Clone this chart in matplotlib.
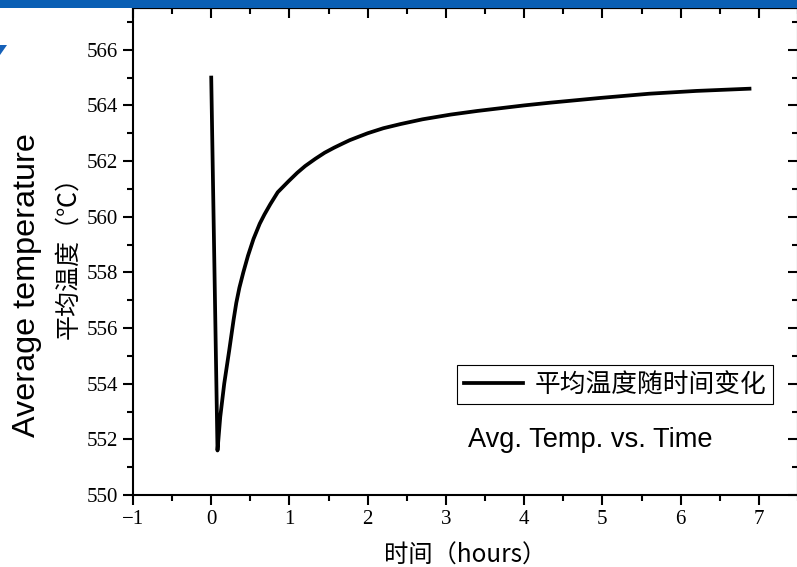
import matplotlib
matplotlib.use('Agg')
from matplotlib import pyplot as plt
from matplotlib.patches import Rectangle, Polygon
from matplotlib.ticker import MultipleLocator

# Data
hours = [0, 0.08, 0.115, 0.166, 0.23, 0.286, 0.32, 0.36, 0.41, 0.47, 0.54, 0.62, 0.68,
         0.755, 0.85, 0.99, 1.1, 1.2, 1.33, 1.45, 1.57, 1.68, 1.77, 1.88, 2.0, 2.2,
         2.42, 2.7, 3.06, 3.4, 3.7, 4.0, 4.34, 4.98, 5.6, 6.2, 6.88]
avg_temp = [565.0, 551.6, 552.8, 554.0, 555.2, 556.3, 556.9, 557.45, 558.0, 558.6, 559.2,
            559.75, 560.08, 560.45, 560.88, 561.28, 561.58, 561.82, 562.08, 562.3, 562.48,
            562.63, 562.75, 562.87, 563.0, 563.18, 563.33, 563.5, 563.67, 563.8, 563.9,
            564.0, 564.1, 564.27, 564.42, 564.52, 564.6]
legend_label = '平均温度随时间变化'

plt.rcParams['font.family'] = ['Liberation Serif', 'Noto Sans CJK SC', 'DejaVu Sans']
cjk = ['Noto Sans CJK SC', 'DejaVu Sans']

fig = plt.figure(figsize=(7.97, 5.67), dpi=100)
ax = fig.add_axes([133 / 797, 72 / 567, 665 / 797, 487 / 567])

ax.plot(hours, avg_temp, color='black', linewidth=2.7, label=legend_label,
        solid_joinstyle='round')

ax.set_xlim(-1, 7.5)
ax.set_ylim(550, 567.5)
ax.xaxis.set_major_locator(MultipleLocator(1))
ax.xaxis.set_minor_locator(MultipleLocator(0.5))
ax.yaxis.set_major_locator(MultipleLocator(2))
ax.yaxis.set_minor_locator(MultipleLocator(1))

ax.tick_params(which='both', direction='out', width=1.5, labelsize=15)
ax.tick_params(which='major', length=7)
ax.tick_params(which='minor', length=4)
for side in ax.spines.values():
    side.set_linewidth(1.5)

# inward ticks on top and right, like the original
ax2 = ax.secondary_xaxis('top')
ax2.xaxis.set_major_locator(MultipleLocator(1))
ax2.xaxis.set_minor_locator(MultipleLocator(0.5))
ax2.tick_params(which='both', direction='in', width=1.5, labeltop=False)
ax2.tick_params(which='major', length=7)
ax2.tick_params(which='minor', length=4)
ay2 = ax.secondary_yaxis('right')
ay2.yaxis.set_major_locator(MultipleLocator(2))
ay2.yaxis.set_minor_locator(MultipleLocator(1))
ay2.tick_params(which='both', direction='in', width=1.5, labelright=False)
ay2.tick_params(which='major', length=7)
ay2.tick_params(which='minor', length=4)

ax.set_xlabel('时间（hours）', family=cjk, fontsize=17.5, labelpad=10)
ax.set_ylabel('平均温度（℃）', family=cjk, fontsize=18, labelpad=4)
fig.text(27 / 797, 1 - 285 / 567, 'Average temperature', family=['Liberation Sans'],
         fontsize=23.3, rotation=90, ha='center', va='center')

leg = ax.legend(loc='lower right', bbox_to_anchor=(0.962, 0.187), borderaxespad=0,
                prop={'family': cjk, 'size': 18.5}, fancybox=False, framealpha=1,
                edgecolor='black', handlelength=2.3, borderpad=0.25, handletextpad=0.45)
leg.get_frame().set_linewidth(0.8)

ax.text(0.504, 0.113, 'Avg. Temp. vs. Time', transform=ax.transAxes,
        family=['Liberation Sans'], fontsize=19.6, ha='left', va='center')

# slide decorations: blue header bar and corner mark
fig.patches.append(Rectangle((0, 1 - 8 / 567), 1, 8 / 567, transform=fig.transFigure,
                             facecolor='#0a5fb4', edgecolor='none', zorder=10))
fig.patches.append(Polygon([(0, 1 - 45 / 567), (7 / 797, 1 - 45 / 567), (0, 1 - 55 / 567)],
                           closed=True, transform=fig.transFigure,
                           facecolor='#1560b8', edgecolor='none', zorder=10))

fig.savefig('out.png', dpi=100)
